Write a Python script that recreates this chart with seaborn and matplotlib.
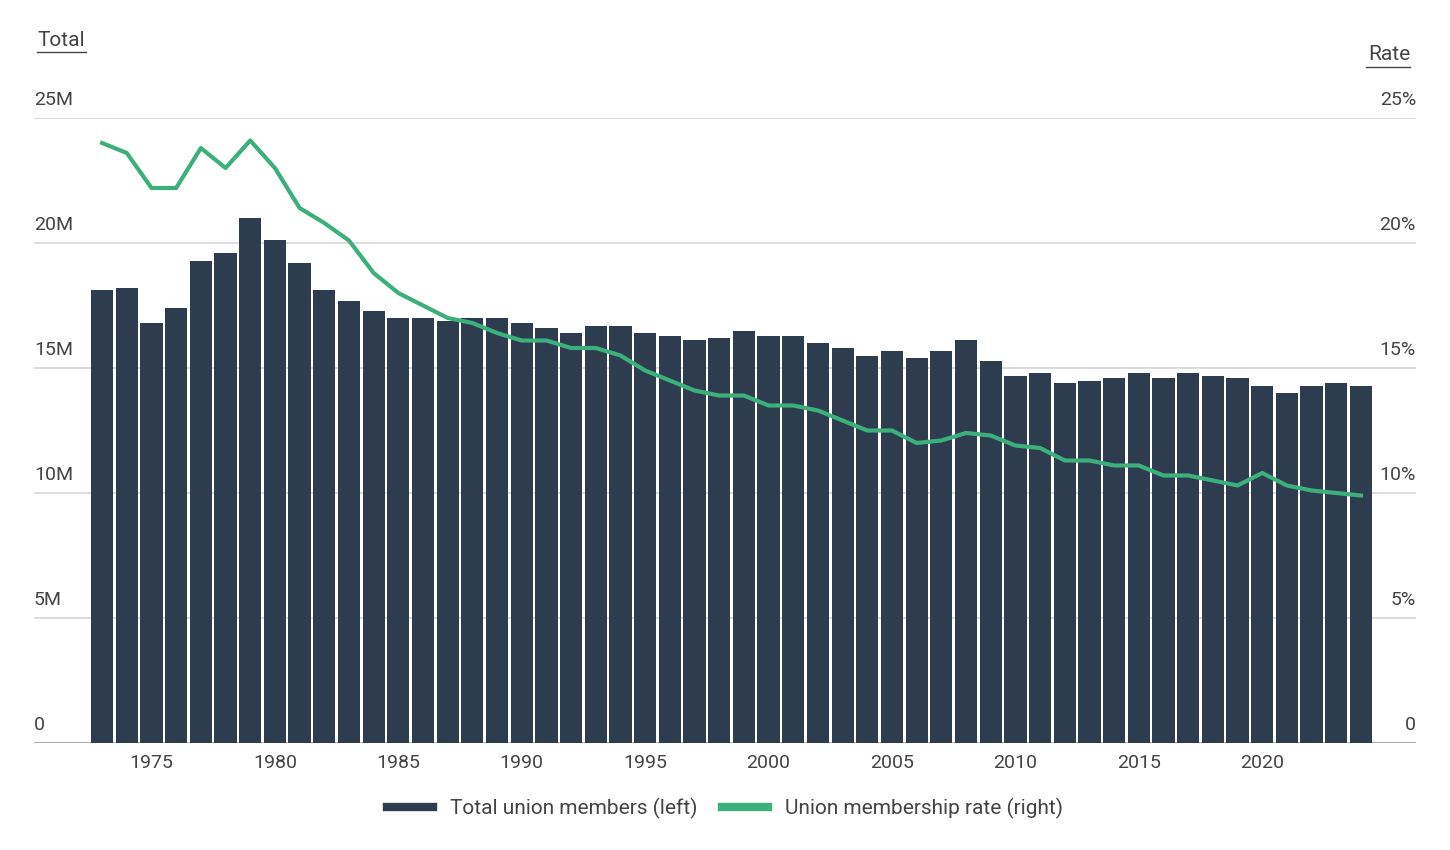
import numpy as np
import pandas as pd
import matplotlib.pyplot as plt
import seaborn as sns
from matplotlib.lines import Line2D

years = list(range(1973, 2025))
members = [18.1, 18.2, 16.8, 17.4, 19.3, 19.6, 21.0, 20.1, 19.2, 18.1,
           17.7, 17.3, 17.0, 17.0, 16.9, 17.0, 17.0, 16.8, 16.6, 16.4,
           16.7, 16.7, 16.4, 16.3, 16.1, 16.2, 16.5, 16.3, 16.3, 16.0,
           15.8, 15.5, 15.7, 15.4, 15.7, 16.1, 15.3, 14.7, 14.8, 14.4,
           14.5, 14.6, 14.8, 14.6, 14.8, 14.7, 14.6, 14.3, 14.0, 14.3,
           14.4, 14.3]
rate = [24.0, 23.6, 22.2, 22.2, 23.8, 23.0, 24.1, 23.0, 21.4, 20.8,
        20.1, 18.8, 18.0, 17.5, 17.0, 16.8, 16.4, 16.1, 16.1, 15.8,
        15.8, 15.5, 14.9, 14.5, 14.1, 13.9, 13.9, 13.5, 13.5, 13.3,
        12.9, 12.5, 12.5, 12.0, 12.1, 12.4, 12.3, 11.9, 11.8, 11.3,
        11.3, 11.1, 11.1, 10.7, 10.7, 10.5, 10.3, 10.8, 10.3, 10.1,
        10.0, 9.9]
left_labels = ["0", "5M", "10M", "15M", "20M", "25M"]
right_labels = ["0", "5%", "10%", "15%", "20%", "25%"]
xticks = [1975, 1980, 1985, 1990, 1995, 2000, 2005, 2010, 2015, 2020]

bar_color = "#2d3c4e"
line_color = "#3cb07a"
plt.rcParams["font.family"] = "Roboto"

df = pd.DataFrame({"year": years, "members": members, "rate": rate})

fig = plt.figure(figsize=(14.5, 8.5), dpi=100)
ax = fig.add_axes([34 / 1450, 1 - 743 / 850, (1416 - 34) / 1450, (743 - 118) / 850])
sns.barplot(data=df, x="year", y="members", native_scale=True, color=bar_color,
            width=0.9, saturation=1, ax=ax, zorder=2)
ax.set_xlim(1970.24, 2026.23)
ax.set_ylim(0, 25)
for s in ax.spines.values():
    s.set_visible(False)
ax.set_yticks([])
ax.set_xlabel("")
ax.set_ylabel("")
for i, v in enumerate(range(0, 26, 5)):
    ax.axhline(v, color="#999999" if v == 0 else "#d6d6d6", lw=1.2, zorder=1)
    ax.text(0, v + 0.35, left_labels[i], transform=ax.get_yaxis_transform(),
            ha="left", va="bottom", fontsize=14, color="#444444")
    ax.text(1, v + 0.35, right_labels[i], transform=ax.get_yaxis_transform(),
            ha="right", va="bottom", fontsize=14, color="#444444")
ax.set_xticks(xticks)
ax.set_xticklabels([str(t) for t in xticks], fontsize=14, color="#444444")
ax.tick_params(axis="x", length=0, pad=8)

ax2 = ax.twinx()
sns.lineplot(data=df, x="year", y="rate", color=line_color, lw=3, ax=ax2, zorder=3)
ax2.set_ylim(0, 25)
ax2.set_yticks([])
ax2.set_ylabel("")
for s in ax2.spines.values():
    s.set_visible(False)

fig.text(37 / 1450, 1 - 40 / 850, "Total", fontsize=15, color="#444444",
         va="center", ha="left").set_url(None)
fig.text(1410 / 1450, 1 - 55 / 850, "Rate", fontsize=15, color="#444444",
         va="center", ha="right")
fig.add_artist(Line2D([37 / 1450, 86 / 1450], [1 - 52 / 850] * 2, color="#444444", lw=1))
fig.add_artist(Line2D([1366 / 1450, 1410 / 1450], [1 - 67 / 850] * 2, color="#444444", lw=1))

handles = [Line2D([], [], color=bar_color, lw=6), Line2D([], [], color=line_color, lw=6)]
fig.legend(handles, ["Total union members (left)", "Union membership rate (right)"],
           loc="center", bbox_to_anchor=(0.5, 1 - 808 / 850), ncol=2, frameon=False,
           fontsize=15, handlelength=2.2, columnspacing=1.2, labelcolor="#444444")

fig.savefig("out.png", dpi=100)
